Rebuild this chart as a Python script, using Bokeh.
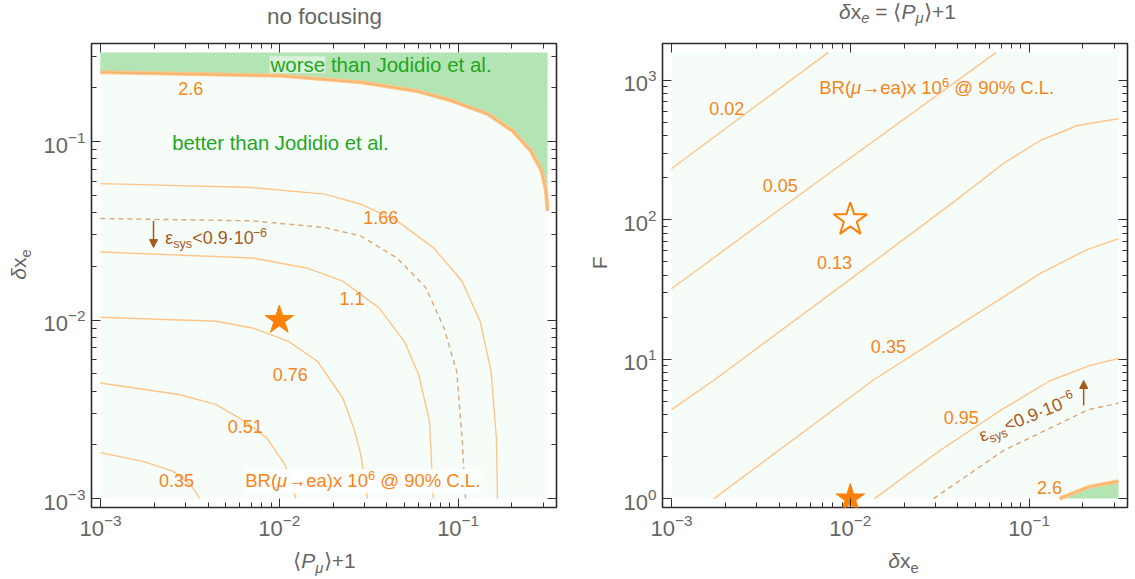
import math
from bokeh.plotting import figure
from bokeh.models import Label, FixedTicker, LogAxis, Range1d, Arrow, NormalHead, CustomJSTickFormatter
from bokeh.layouts import row, column
from bokeh.embed import file_html
from bokeh.resources import INLINE

FONT = "Liberation Sans"

# ---------------- data : left panel "no focusing" (x = <P_mu>+1, y = delta x_e)
L_c260_x = [0.001, 0.01028, 0.0286, 0.0575, 0.0915, 0.1456, 0.2017, 0.2547, 0.293, 0.31, 0.316]
L_c260_y = [0.245, 0.234, 0.215, 0.193, 0.170, 0.143, 0.115, 0.0889, 0.0687, 0.053, 0.041]
L_c166_x = [0.001, 0.00708, 0.01795, 0.02858, 0.0455, 0.0726, 0.105, 0.1327, 0.1528, 0.1637, 0.166]
L_c166_y = [0.0582, 0.0553, 0.0508, 0.0446, 0.0360, 0.0255, 0.01655, 0.00986, 0.00516, 0.00218, 0.001]
L_sys_x = [0.001, 0.00708, 0.01795, 0.02858, 0.0455, 0.066, 0.0833, 0.0982, 0.1052, 0.110]
L_sys_y = [0.0371, 0.0360, 0.0330, 0.0296, 0.0223, 0.0152, 0.00904, 0.00516, 0.00218, 0.001]
L_c110_x = [0.001, 0.00708, 0.01422, 0.02265, 0.0361, 0.05, 0.0602, 0.0692, 0.0726]
L_c110_y = [0.0241, 0.0223, 0.0196, 0.01655, 0.01172, 0.0076, 0.00494, 0.0027, 0.001]
L_c076_x = [0.001, 0.00445, 0.00708, 0.01127, 0.01633, 0.0187, 0.02265, 0.0261, 0.02858, 0.0311]
L_c076_y = [0.01038, 0.00986, 0.00904, 0.0076, 0.00588, 0.00484, 0.00366, 0.00248, 0.00176, 0.001]
L_c051_x = [0.001, 0.00279, 0.00445, 0.00645, 0.00853, 0.01076, 0.0124]
L_c051_y = [0.00444, 0.00382, 0.00336, 0.0027, 0.00218, 0.00155, 0.001]
L_c035_x = [0.001, 0.00175, 0.00255, 0.00321, 0.0036]
L_c035_y = [0.00181, 0.00161, 0.00142, 0.00119, 0.001]
L_star = (0.01, 0.01)
L_levels = ["2.6", "1.66", "1.1", "0.76", "0.51", "0.35"]
L_level_x = [0.0032, 0.0369, 0.0255, 0.01153, 0.00645, 0.00266]
L_level_y = [0.198, 0.0379, 0.0133, 0.00499, 0.00254, 0.00126]

# ---------------- data : right panel "delta x_e = <P_mu>+1" (x = delta x_e, y = F)
R_c002_x = [0.001, 0.00259, 0.00755]
R_c002_y = [232, 576, 1585]
R_c005_x = [0.001, 0.0067, 0.0655]
R_c005_y = [32, 191, 1585]
R_c013_x = [0.001, 0.00172, 0.0098, 0.0387, 0.0718, 0.1156, 0.186, 0.316]
R_c013_y = [4.34, 7.03, 36.7, 137, 253, 370, 474, 530]
R_c035_x = [0.00173, 0.01334, 0.0447, 0.1156, 0.2058, 0.316]
R_c035_y = [1.0, 7.03, 19.0, 41.2, 60.2, 73.1]
R_c095_x = [0.01365, 0.0319, 0.0692, 0.1316, 0.22, 0.316]
R_c095_y = [1.0, 2.22, 4.29, 7.03, 9.02, 10.1]
R_sys_x = [0.0292, 0.0719, 0.147, 0.214, 0.316]
R_sys_y = [1.0, 2.21, 3.44, 4.34, 4.84]
R_c260_x = [0.148, 0.214, 0.316]
R_c260_y = [1.0, 1.21, 1.33]
R_star_open = (0.01, 100)
R_star_full = (0.01, 1)
R_levels = ["0.02", "0.05", "0.13", "0.35", "0.95", "2.6"]
R_level_x = [0.00204, 0.00406, 0.00817, 0.01633, 0.0417, 0.130]
R_level_y = [625, 176, 49.6, 12.4, 3.84, 1.21]

X_MAJ = [1e-3, 1e-2, 1e-1]
X_MIN = [m * 10.0 ** e for e in (-3, -2) for m in range(2, 10)] + [0.2, 0.3]
LY_MAJ = X_MAJ
LY_MIN = X_MIN
RY_MAJ = [1, 10, 100, 1000]
RY_MIN = [m * 10.0 ** e for e in (0, 1, 2) for m in range(2, 10)]

# ---------------- style
MINT = "#f6fcf7"
GREEN_FILL = "#b3e4b3"
LINE = "#fec58a"
THICK = "#f5b46c"
ORANGE_TXT = "#f7851c"
GREEN_TXT = "#1fa71f"
BROWN = "#a65a1c"
DASH = "#d9a77a"
STAR = "#ff8008"
GREY = "#666666"

W = {c: 0.556 for c in "0123456789"}
W.update({' ': .278, '.': .278, ',': .278, '(': .333, ')': .333, '%': .889, '@': 1.015,
          '<': .584, '=': .584, '+': .584, '−': .584, '-': .333, '·': .278, '→': 1.0,
          '⟨': .39, '⟩': .39, 'ε': .45, 'μ': .576, 'δ': .556})
W.update(dict(a=.556, b=.556, c=.5, d=.556, e=.556, f=.278, g=.556, h=.556, i=.222, j=.222,
              k=.5, l=.222, m=.833, n=.556, o=.556, p=.556, q=.556, r=.333, s=.5, t=.278,
              u=.556, v=.5, w=.722, x=.5, y=.5, z=.5))
W.update(dict(A=.667, B=.667, C=.722, D=.722, E=.667, F=.611, G=.778, H=.722, I=.278, J=.5,
              K=.667, L=.556, M=.833, N=.722, O=.778, P=.667, Q=.778, R=.722, S=.667, T=.611,
              U=.722, V=.667, W=.944, X=.667, Y=.667, Z=.611))


def tw(t):
    return sum(W.get(ch, 0.556) for ch in t)


def rich(p, x, y, pieces, size, color, angle=0.0, align="left", vcenter=True):
    """Place a run of text pieces (normal / sub / sup, italic or not) one after another."""
    c, s = math.cos(angle), math.sin(angle)
    sizes = [size * 0.7 if k in ("sub", "sup") else size for _, k, _ in pieces]
    widths = [tw(t) * fs for (t, _, _), fs in zip(pieces, sizes)]
    total = sum(widths)
    dx = -total / 2 if align == "center" else 0.0
    base = -0.358 * size if vcenter else 0.0
    for (t, k, it), fs, w in zip(pieces, sizes, widths):
        shift = -0.25 * size if k == "sub" else 0.42 * size if k == "sup" else 0.0
        dy = base + shift + 0.3465 * fs
        lead = len(t) - len(t.lstrip(" "))
        px = dx + lead * 0.278 * fs
        txt = t.strip(" ")
        if txt:
            p.add_layout(Label(x=x, y=y, text=txt, x_offset=px * c - dy * s, y_offset=px * s + dy * c,
                               angle=angle, text_font=FONT, text_font_size=f"{fs:.1f}px",
                               text_font_style="italic" if it else "normal", text_color=color,
                               text_align="left", text_baseline="middle"))
        dx += w


def text_fig(w, h):
    f = figure(width=w, height=h, x_range=Range1d(0, w), y_range=Range1d(0, h),
               output_backend="svg", toolbar_location=None, x_axis_location=None, y_axis_location=None,
               min_border_left=0, min_border_right=0, min_border_top=0, min_border_bottom=0)
    f.outline_line_color = None
    f.grid.visible = False
    f.background_fill_color = "white"
    f.border_fill_color = "white"
    return f


def make_fig(width, mbl, mbr, yr, ymaj, ymin):
    p = figure(width=width, height=508, x_axis_type="log", y_axis_type="log",
               x_range=Range1d(10 ** -3.05, 10 ** -0.45), y_range=Range1d(*yr),
               output_backend="svg", toolbar_location=None,
               min_border_left=mbl, min_border_right=mbr, min_border_top=8, min_border_bottom=36)
    p.add_layout(LogAxis(), "above")
    p.add_layout(LogAxis(), "right")
    p.xgrid.visible = False
    p.ygrid.visible = False
    p.background_fill_color = "white"
    p.border_fill_color = "white"
    p.outline_line_color = "#2b2b2b"
    p.outline_line_width = 1.6
    for ax in p.xaxis:
        ax.ticker = FixedTicker(ticks=X_MAJ, minor_ticks=X_MIN)
    for ax in p.yaxis:
        ax.ticker = FixedTicker(ticks=ymaj, minor_ticks=ymin)
    for ax in list(p.xaxis) + list(p.yaxis):
        ax.major_tick_in = 9
        ax.major_tick_out = 0
        ax.minor_tick_in = 5
        ax.minor_tick_out = 0
        ax.major_tick_line_color = "#333333"
        ax.minor_tick_line_color = "#333333"
        ax.axis_line_color = None
        ax.major_label_text_color = GREY
        ax.major_label_text_font = FONT
        ax.major_label_text_font_size = "22px"
        ax.major_label_standoff = 6
    for ax in (p.above[0], p.right[0]):
        ax.formatter = CustomJSTickFormatter(code="return ''")
        ax.major_label_text_font_size = "0px"
        ax.major_label_standoff = 0
    return p


BR_PIECES = [("BR(", "n", False), ("μ", "n", True), ("→ea)x 10", "n", False),
             ("6", "sup", False), (" @ 90% C.L.", "n", False)]
EPS_PIECES = [("ε", "n", False), ("sys", "sub", False), ("<0.9·10", "n", False), ("−6", "sup", False)]

# ================= left panel
p1 = make_fig(526, 53, 8, (10 ** -3.05, 10 ** -0.45), LY_MAJ, LY_MIN)
p1.quad(left=[1e-3], right=[10 ** -0.5], bottom=[1e-3], top=[10 ** -0.5], fill_color=MINT, line_color=None)
p1.patch(L_c260_x + [10 ** -0.5, 1e-3], L_c260_y + [10 ** -0.5, 10 ** -0.5], fill_color=GREEN_FILL, line_color=None)
for xs, ys in [(L_c166_x, L_c166_y), (L_c110_x, L_c110_y), (L_c076_x, L_c076_y),
               (L_c051_x, L_c051_y), (L_c035_x, L_c035_y)]:
    p1.line(xs, ys, line_color=LINE, line_width=1.4)
p1.line(L_sys_x, L_sys_y, line_color=DASH, line_width=1.4, line_dash="5 4")
p1.line(L_c260_x, L_c260_y, line_color=LINE, line_width=4)
p1.line(L_c260_x, L_c260_y, line_color=THICK, line_width=1.4)
p1.rect(x=[0.02924], y=[0.001253], width=237, height=24, width_units="screen", height_units="screen",
        fill_color="white", fill_alpha=0.9, line_color=None)
p1.rect(x=[0.01262], y=[0.270], width=56, height=17, width_units="screen", height_units="screen",
        fill_color="white", fill_alpha=0.5, line_color=None)
p1.scatter([L_star[0]], [L_star[1]], marker="star", size=30, fill_color=STAR, line_color=STAR)
for t, x, y in zip(L_levels, L_level_x, L_level_y):
    rich(p1, x, y, [(t, "n", False)], 18, ORANGE_TXT, align="center")
rich(p1, 0.00893, 0.270, [("worse than Jodidio et al.", "n", False)], 20.5, GREEN_TXT)
rich(p1, 0.00252, 0.099, [("better than Jodidio et al.", "n", False)], 20.3, GREEN_TXT)
rich(p1, 0.00645, 0.00126, BR_PIECES, 18.5, ORANGE_TXT)
rich(p1, 0.0023, 0.0266, EPS_PIECES, 18, BROWN, vcenter=False)
p1.add_layout(Arrow(end=NormalHead(size=8, fill_color=BROWN, line_color=BROWN),
                    x_start=0.00198, y_start=0.036, x_end=0.00198, y_end=0.0255,
                    line_color=BROWN, line_width=1.5))

t1 = text_fig(564, 35)
rich(t1, 324, 11.7, [("no focusing", "n", False)], 22.5, GREY, align="center", vcenter=False)
y1 = text_fig(38, 508)
rich(y1, 18, 266, [("δ", "n", True), ("x", "n", False), ("e", "sub", False)], 21, GREY,
     angle=math.pi / 2, align="center")
x1 = text_fig(564, 35)
rich(x1, 324, 10.5, [("⟨", "n", False), ("P", "n", True), ("μ", "sub", True), ("⟩+1", "n", False)],
     21, GREY, align="center", vcenter=False)

# ================= right panel
p2 = make_fig(522, 50, 7, (10 ** -0.064, 10 ** 3.264), RY_MAJ, RY_MIN)
p2.quad(left=[1e-3], right=[10 ** -0.5], bottom=[1], top=[10 ** 3.2], fill_color=MINT, line_color=None)
p2.patch(R_c260_x + [10 ** -0.5], R_c260_y + [1.0], fill_color=GREEN_FILL, line_color=None)
for xs, ys in [(R_c002_x, R_c002_y), (R_c005_x, R_c005_y), (R_c013_x, R_c013_y),
               (R_c035_x, R_c035_y), (R_c095_x, R_c095_y)]:
    p2.line(xs, ys, line_color=LINE, line_width=1.4)
p2.line(R_sys_x, R_sys_y, line_color=DASH, line_width=1.4, line_dash="5 4")
p2.line(R_c260_x, R_c260_y, line_color=LINE, line_width=4)
p2.line(R_c260_x, R_c260_y, line_color=THICK, line_width=1.4)
p2.scatter([R_star_open[0]], [R_star_open[1]], marker="star", size=35, fill_color="white",
           line_color=STAR, line_width=2)
p2.scatter([R_star_full[0]], [R_star_full[1]], marker="star", size=30, fill_color=STAR, line_color=STAR)
for t, x, y in zip(R_levels, R_level_x, R_level_y):
    rich(p2, x, y, [(t, "n", False)], 18, ORANGE_TXT, align="center")
rich(p2, 0.0067, 885, BR_PIECES, 18.5, ORANGE_TXT)
rich(p2, 0.0546, 2.54, EPS_PIECES, 18, BROWN, angle=math.radians(22), vcenter=False)
p2.add_layout(Arrow(end=NormalHead(size=8, fill_color=BROWN, line_color=BROWN),
                    x_start=0.2018, y_start=4.65, x_end=0.2018, y_end=7.03,
                    line_color=BROWN, line_width=1.5))

t2 = text_fig(570, 35)
rich(t2, 333, 17.2, [("δ", "n", True), ("x", "n", False), ("e", "sub", True), (" = ", "n", False),
                     ("⟨", "n", False), ("P", "n", True), ("μ", "sub", True), ("⟩+1", "n", False)],
     21, GREY, align="center", vcenter=False)
y2 = text_fig(48, 508)
rich(y2, 35, 268, [("F", "n", False)], 21, GREY, angle=math.pi / 2, align="center")
x2 = text_fig(570, 35)
rich(x2, 339, 10.5, [("δ", "n", True), ("x", "n", False), ("e", "sub", False)], 21, GREY,
     align="center", vcenter=False)

left = column(t1, row(y1, p1), x1)
right = column(t2, row(y2, p2), x2)
layout = row(left, right)
open("out.html", "w").write(file_html(layout, INLINE))
